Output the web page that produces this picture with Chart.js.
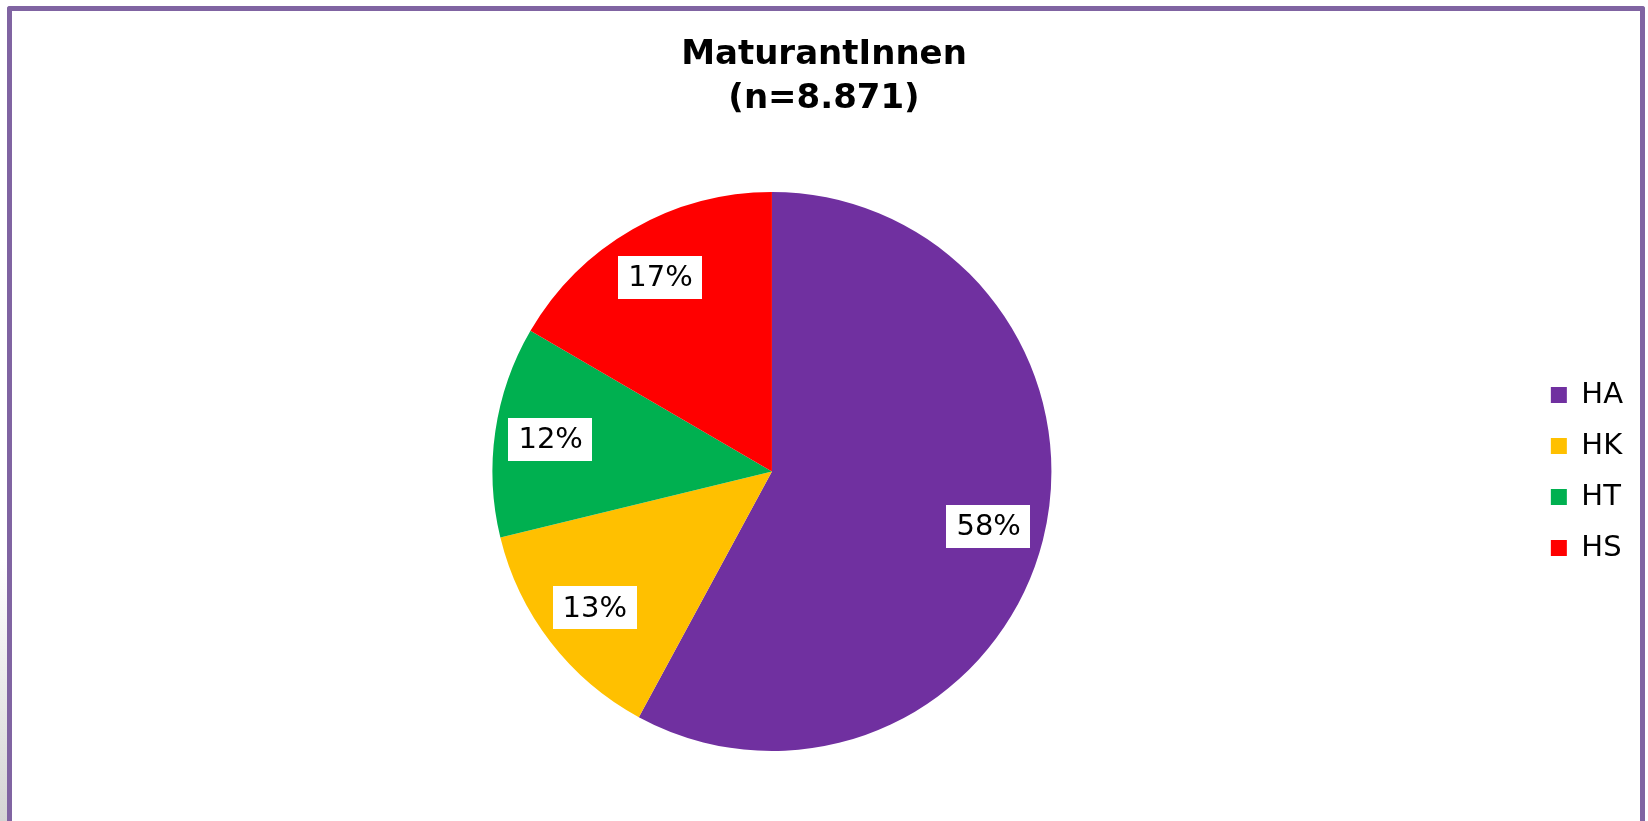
<!DOCTYPE html>
<html>
<head>
<meta charset="utf-8">
<script src="https://cdn.jsdelivr.net/npm/chart.js@4/dist/chart.umd.min.js"></script>
<style>
  html, body { margin: 0; padding: 0; background: #fff; overflow: hidden; }
  #edge { position: absolute; left: 0; top: 560px; width: 7px; height: 261px;
          background: linear-gradient(#ffffff, #d4d4d4); }
  #frame { position: absolute; left: 7px; top: 6px; width: 1638px; height: 815px;
           box-sizing: border-box; border: 5px solid #8064A2; border-bottom: none;
           border-radius: 3px 3px 0 0; background: #fff; }
  #wrap { position: relative; width: 1628px; height: 810px; }
</style>
</head>
<body>
<div id="edge"></div>
<div id="frame"><div id="wrap"><canvas id="myChart"></canvas></div></div>
<script>
const titleLines = ['MaturantInnen', '(n=8.871)'];
const categories = ['HA', 'HK', 'HT', 'HS'];
const shares = [57.9, 13.3, 12.2, 16.6];
const sliceColors = ['#7030A0', '#FFC000', '#00B050', '#FF0000'];

Chart.defaults.font.family = "'DejaVu Sans', Verdana, sans-serif";
Chart.defaults.color = '#000';

// white boxes with the percent inside each slice
const percentLabels = {
  id: 'percentLabels',
  afterDatasetsDraw(chart) {
    const ctx = chart.ctx;
    const meta = chart.getDatasetMeta(0);
    const values = chart.data.datasets[0].data;
    const total = values.reduce((a, b) => a + b, 0);
    ctx.save();
    ctx.font = "29px 'DejaVu Sans', Verdana, sans-serif";
    ctx.textAlign = 'center';
    ctx.textBaseline = 'middle';
    meta.data.forEach((arc, i) => {
      const p = arc.getProps(['x', 'y', 'startAngle', 'endAngle', 'outerRadius'], true);
      const mid = (p.startAngle + p.endAngle) / 2;
      const r = p.outerRadius * 0.8;
      const cx = p.x + Math.cos(mid) * r;
      const cy = p.y + Math.sin(mid) * r;
      const txt = Math.round(values[i] / total * 100) + '%';
      const w = ctx.measureText(txt).width + 20;
      const h = 43;
      ctx.fillStyle = '#fff';
      ctx.fillRect(Math.round(cx - w / 2), Math.round(cy - h / 2), Math.round(w), h);
      ctx.fillStyle = '#000';
      ctx.fillText(txt, cx, cy + 1);
    });
    ctx.restore();
  }
};

new Chart(document.getElementById('myChart'), {
  type: 'pie',
  data: {
    labels: categories,
    datasets: [{
      data: shares,
      backgroundColor: sliceColors,
      borderWidth: 0
    }]
  },
  options: {
    responsive: true,
    maintainAspectRatio: false,
    animation: false,
    layout: { padding: { left: 3, right: 7, top: 0, bottom: 70 } },
    plugins: {
      title: {
        display: true,
        text: titleLines,
        color: '#000',
        font: { size: 34, weight: 'bold', lineHeight: 1.294 },
        padding: { top: 22, bottom: 71 }
      },
      legend: {
        position: 'right',
        fullSize: false,
        labels: {
          boxWidth: 16,
          boxHeight: 16,
          padding: 22,
          color: '#000',
          font: { size: 29 }
        }
      },
      tooltip: { enabled: false }
    }
  },
  plugins: [percentLabels]
});
</script>
</body>
</html>
